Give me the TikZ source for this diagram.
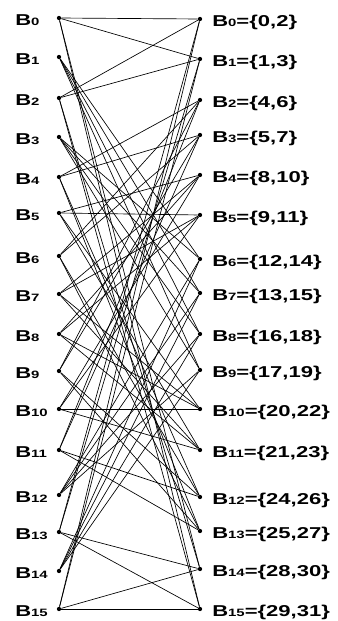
\documentclass[tikz,border=0pt]{standalone}
\usepackage{graphicx}
\usepackage{fontspec}
\setmainfont{Liberation Sans}
\newcommand{\bsub}[1]{\scalebox{1.4}[1]{\bfseries\fontsize{11.8}{12}\selectfont B{\fontsize{8}{8}\selectfont #1}}}
\newcommand{\rset}[2]{\scalebox{1.4}[1]{\bfseries\fontsize{11.8}{12}\selectfont B{\fontsize{8}{8}\selectfont #1}=\{#2\}}}
\tikzset{
  dot/.style={circle,fill=black,inner sep=0pt,minimum size=3.2pt},
  edge/.style={line width=0.5pt,black},
  lbl/.style={anchor=base west,inner sep=0pt}
}
\begin{document}
\begin{tikzpicture}[x=0.75pt,y=-0.75pt]
\useasboundingbox (0,0) rectangle (338,621);
\foreach \i/\y in {0/18,1/57,2/98,3/137,4/177,5/213,6/256,7/294,8/334,9/371,10/409,11/450,12/495,13/532,14/571,15/609}{
  \node[dot] (L\i) at (59,\y) {};
  \node[lbl] (LT\i) at (15,\y+7.5) {\bsub{\i}};
}
\foreach \j/\y/\s in {0/19/{0,2},1/59/{1,3},2/100/{4,6},3/135/{5,7},4/175/{8,10},5/215/{9,11},6/259/{12,14},7/293/{13,15},8/334/{16,18},9/370/{17,19},10/409/{20,22},11/450/{21,23},12/497/{24,26},13/531/{25,27},14/569/{28,30},15/609/{29,31}}{
  \node[dot] (R\j) at (200,\y) {};
  \node[lbl] (RT\j) at (212,\y+7.5) {\rset{\j}{\s}};
}
% each left block reaches the four right blocks of its group
\foreach \ls/\rs in {{0,2,13,15}/{0,1,14,15},{1,3,12,14}/{6,7,8,9},{4,6,9,11}/{2,3,12,13},{5,7,8,10}/{4,5,10,11}}{
  \foreach \a in \ls {
    \foreach \b in \rs {
      \draw[edge] (L\a) -- (R\b);
    }
  }
}
\end{tikzpicture}
\end{document}
